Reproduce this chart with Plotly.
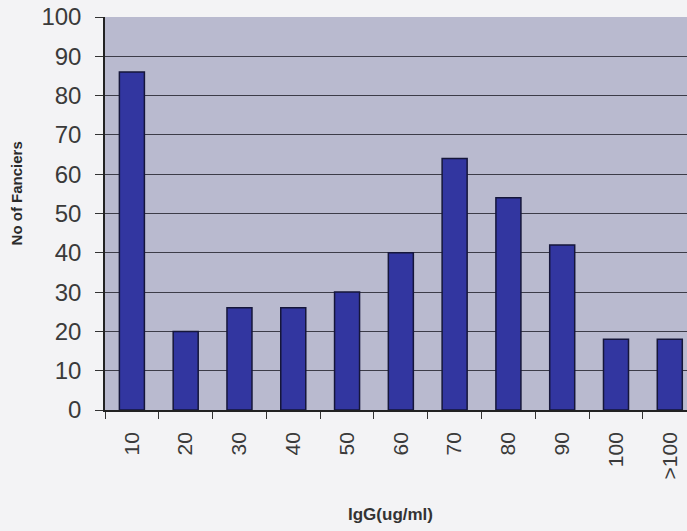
import plotly.graph_objects as go

# IgG concentration bins (ug/ml) and number of fanciers in each
categories = ["10", "20", "30", "40", "50", "60", "70", "80", "90", "100", ">100"]
fanciers = [86, 20, 26, 26, 30, 40, 64, 54, 42, 18, 18]
y_ticks = [0, 10, 20, 30, 40, 50, 60, 70, 80, 90, 100]

fig = go.Figure(
    go.Bar(
        x=categories,
        y=fanciers,
        width=0.465,
        marker=dict(color="#3236a0", line=dict(color="#15163a", width=1.5)),
    )
)

fig.update_layout(
    width=687,
    height=531,
    margin=dict(l=105, r=0, t=17, b=121),
    paper_bgcolor="#f3f3f5",
    plot_bgcolor="#b9bacf",
    showlegend=False,
    font=dict(family="Arial, Liberation Sans, sans-serif", color="#333333"),
    annotations=[
        dict(
            text="<b>IgG(ug/ml)</b>",
            xref="paper", yref="paper",
            x=0.490, y=-0.265,
            xanchor="center", yanchor="middle",
            showarrow=False,
            font=dict(size=17, color="#333333"),
        ),
        dict(
            text="<b>No of Fanciers</b>",
            xref="paper", yref="paper",
            x=-0.152, y=0.55,
            xanchor="center", yanchor="middle",
            textangle=-90,
            showarrow=False,
            font=dict(size=15, family="Liberation Sans Narrow, Arial Narrow, sans-serif",
                      color="#2a2a2a"),
        ),
    ],
)

fig.update_xaxes(
    type="category",
    range=[-0.5, 10.32],
    tickangle=-90,
    tickfont=dict(size=21, color="#3a3a3a"),
    ticks="outside",
    tickson="boundaries",
    ticklen=7,
    tickcolor="#333333",
    ticklabelstandoff=12,
    showline=True,
    linecolor="#222222",
    linewidth=1.5,
    showgrid=False,
)

fig.update_yaxes(
    range=[0, 100],
    tickvals=y_ticks,
    tickfont=dict(size=24, color="#3a3a3a"),
    ticks="outside",
    ticklen=8,
    tickcolor="#333333",
    ticklabelstandoff=9,
    showline=True,
    linecolor="#222222",
    linewidth=1.5,
    showgrid=True,
    gridcolor="#3c3c48",
    gridwidth=1,
    zeroline=False,
)

fig.write_html("out.html")
